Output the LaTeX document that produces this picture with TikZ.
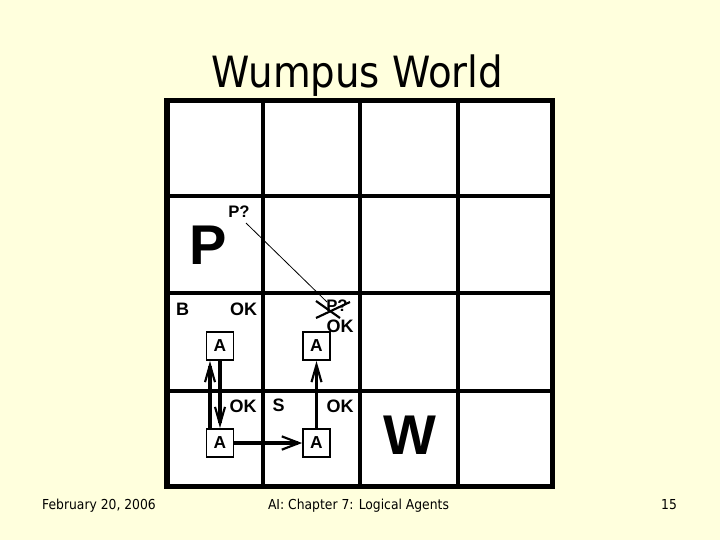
\documentclass[tikz,border=0pt]{standalone}
\usepackage{fontspec}
\setmainfont{Liberation Sans}
\newfontfamily\tahoma{DejaVu Sans Condensed}
\usetikzlibrary{arrows.meta,calc}
\definecolor{bgyellow}{RGB}{255,255,221}
\begin{document}
\begin{tikzpicture}[x=0.75pt,y=-0.75pt,
  lbl/.style={font=\fontsize{13.5}{15}\selectfont\bfseries, inner sep=0pt},
  smalllbl/.style={font=\fontsize{12.5}{14}\selectfont\bfseries, inner sep=0pt},
  biglbl/.style={font=\fontsize{42}{46}\selectfont\bfseries, inner sep=0pt},
  agent/.style={draw, fill=white, line width=1.4pt, minimum width=20.25pt, minimum height=21pt, inner sep=0pt, font=\fontsize{13}{15}\selectfont\bfseries},
  vmove/.style={line width=2.8pt, -{Straight Barb[length=13pt,width=7.5pt,line width=1.6pt]}},
  hmove/.style={line width=2.8pt, -{Straight Barb[length=13pt,width=10pt,line width=1.6pt]}},
  footer/.style={font=\tahoma\fontsize{10.3}{12}\selectfont, anchor=base, inner sep=0pt},
  innerline/.style={line width=3pt},
  outerline/.style={line width=3.9pt}
]
\useasboundingbox (0,0) rectangle (720,540);
\fill[bgyellow] (0,0) rectangle (720,540);

% title
\node[font=\tahoma\fontsize{32.3}{36}\selectfont, anchor=base, inner sep=0pt] (title) at (357.5,87) {Wumpus World};

% grid
\fill[white] (167,100.5) rectangle (552.5,486.5);
\foreach \x in {263,360.3,457.7} \draw[innerline] (\x,100.5) -- (\x,486.5);
\foreach \y in {196,293,390.5} \draw[innerline] (167,\y) -- (552.5,\y);
\draw[outerline] (167,100.5) rectangle (552.5,486.5);

% cell (1,3)
\node[biglbl] (bigP) at (208,245.5) {P};
\node[smalllbl] (p13) at (239,212) {P?};

% cell (1,2)
\node[lbl] (b12) at (182.5,309) {B};
\node[lbl] (ok12) at (243.5,309) {OK};
\node[agent] (A12) at (220,346) {A};

% cell (2,2)
\node[smalllbl] (p22) at (337,306) {P?};
\node[lbl] (ok22) at (340,326.5) {OK};
\node[agent] (A22) at (316.5,346) {A};
\draw[line width=1.6pt] ($(p22)+(-21,-5)$) -- ($(p22)+(3,12)$);
\draw[line width=1.6pt] ($(p22)+(-21,12)$) -- ($(p22)+(13,-4)$);
\draw[line width=0.6pt] ($(p13)+(7,11)$) -- ($(p22)+(-10,-4)$);

% cell (1,1)
\node[lbl] (ok11) at (243,406) {OK};
\node[agent] (A11) at (220,443) {A};

% cell (2,1)
\node[lbl] (s21) at (278.5,405.5) {S};
\node[lbl] (ok21) at (340,406) {OK};
\node[agent] (A21) at (316.5,443) {A};

% cell (3,1)
\node[font=\fontsize{42}{46}\selectfont\bfseries, inner sep=0pt] (W) at (410,435) {W};

% moves
\draw[vmove] ($(A11.north)+(-10,0)$) -- ($(A12.south)+(-10,0)$);
\draw[vmove] (A12.south) -- (A11.north);
\draw[vmove] (A21.north) -- (A22.south);
\draw[hmove] (A11.east) -- (A21.west);

% footer
\node[footer] (date) at (99,509) {February 20, 2006};
\node[footer] (chap) at (358.5,509) {AI: Chapter 7: Logical Agents};
\node[footer] (page) at (669,509) {15};
\end{tikzpicture}
\end{document}
